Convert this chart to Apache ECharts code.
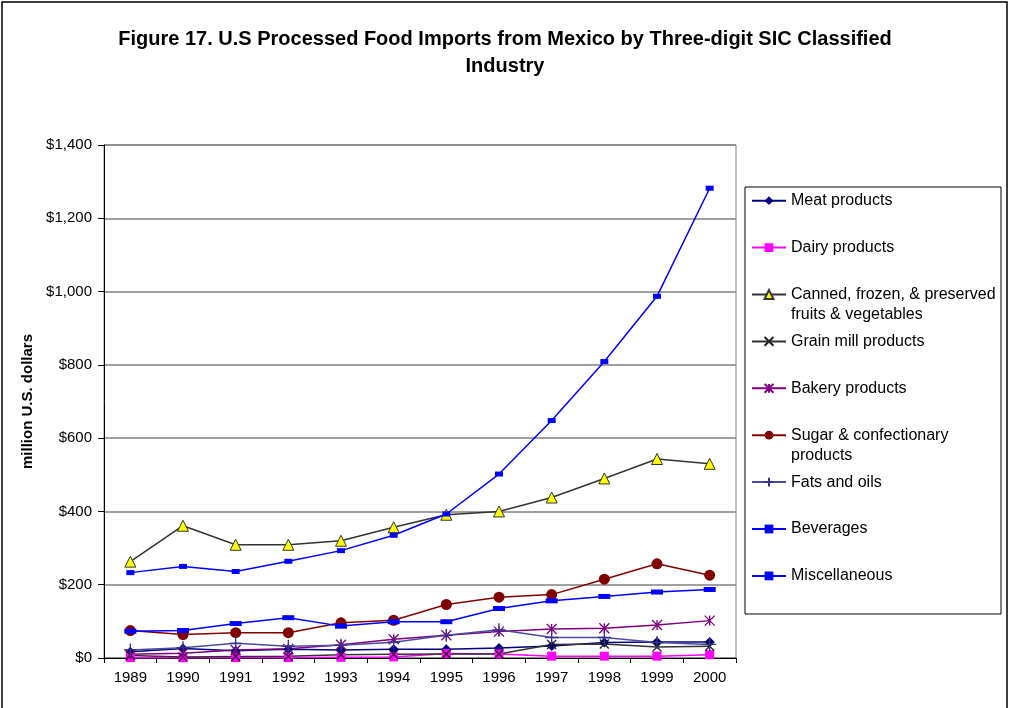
<!DOCTYPE html>
<html>
<head>
<meta charset="utf-8">
<title>Figure 17</title>
<script src="https://cdn.jsdelivr.net/npm/echarts@6/dist/echarts.min.js"></script>
<style>
  html, body { margin: 0; padding: 0; background: #fff; }
  #chart { width: 1010px; height: 708px; }
</style>
</head>
<body>
<div id="chart"></div>
<script>
// years on the x axis
var years = ['1989', '1990', '1991', '1992', '1993', '1994', '1995', '1996', '1997', '1998', '1999', '2000'];
// million U.S. dollars
var meat      = [17, 26, 20, 24, 22, 24, 24, 27, 33, 42, 44, 44];
var dairy     = [1, 1, 1, 1, 2, 3, 12, 11, 5, 5, 5, 9];
var canned    = [263, 361, 309, 309, 320, 357, 391, 400, 438, 490, 543, 530];
var grain     = [7, 3, 4, 5, 9, 10, 11, 11, 37, 38, 30, 32];
var bakery    = [10, 13, 22, 25, 36, 51, 62, 72, 79, 81, 90, 102];
var sugar     = [75, 64, 69, 69, 96, 103, 146, 166, 173, 215, 257, 226];
var fats      = [22, 28, 40, 32, 35, 43, 62, 77, 56, 56, 42, 37];
var beverages = [233, 250, 236, 264, 293, 335, 393, 502, 648, 809, 987, 1282];
var misc      = [73, 75, 94, 110, 87, 99, 99, 135, 156, 168, 180, 187];
// y axis ticks
var yTicks = [0, 200, 400, 600, 800, 1000, 1200, 1400];

var FONT = 'Liberation Sans, Arial, sans-serif';

// marker shapes Excel uses
var xMark    = 'path://M0,0L10,10M0,10L10,0';
var plusMark = 'path://M5,0L5,10M0,5L10,5';
var starMark = 'path://M0,0L10,10M0,10L10,0M5,0L5,10';

var seriesDefs = [
  { name: 'Meat products', data: meat, line: '#000080', symbol: 'diamond', size: 10, fill: '#000080' },
  { name: 'Dairy products', data: dairy, line: '#FF00FF', symbol: 'rect', size: 9, fill: '#FF00FF' },
  { name: 'Canned, frozen, & preserved fruits & vegetables', label: ['Canned, frozen, & preserved', 'fruits & vegetables'],
    data: canned, line: '#333333', symbol: 'triangle', size: 11, fill: '#FFFF00', border: '#333333', bw: 1 },
  { name: 'Grain mill products', data: grain, line: '#333333', symbol: xMark, size: 9, fill: 'none', border: '#222222', bw: 1.3 },
  { name: 'Bakery products', data: bakery, line: '#800080', symbol: starMark, size: 10, fill: 'none', border: '#800080', bw: 1.3 },
  { name: 'Sugar & confectionary products', label: ['Sugar & confectionary', 'products'],
    data: sugar, line: '#800000', symbol: 'circle', size: 11, fill: '#800000' },
  { name: 'Fats and oils', data: fats, line: '#4B4BA0', symbol: plusMark, size: 13, fill: 'none', border: '#33338C', bw: 1.3 },
  { name: 'Beverages', data: beverages, line: '#0000FF', symbol: 'rect', size: [8, 5], fill: '#0000FF' },
  { name: 'Miscellaneous', data: misc, line: '#0000FF', symbol: 'rect', size: [12, 5], fill: '#0000FF' }
];

function dollars(v) {
  var s = String(v);
  if (v >= 1000) s = s.slice(0, s.length - 3) + ',' + s.slice(-3);
  return '$' + s;
}

var series = seriesDefs.map(function (d) {
  return {
    name: d.name,
    type: 'line',
    data: d.data,
    symbol: d.symbol,
    symbolSize: d.size,
    showAllSymbol: true,
    animation: false,
    lineStyle: { color: d.line, width: 1.5 },
    itemStyle: {
      color: d.fill,
      borderColor: d.border || d.fill,
      borderWidth: d.bw || 0
    },
    emphasis: { disabled: true }
  };
});

// one legend per entry so the rows keep Excel's even spacing
var LH = 20;
var legends = seriesDefs.map(function (d, i) {
  var cy = 200.7 + i * 46.9;
  var two = !!d.label;
  return {
    orient: 'vertical',
    left: 751,
    top: cy - (two ? 1.5 : 0.5) * LH,
    padding: 0,
    itemWidth: 34,
    itemHeight: 11,
    itemGap: 0,
    selectedMode: false,
    data: [d.name],
    formatter: function (name) {
      return two ? '\n' + d.label[0] + '\n' + d.label[1] : name;
    },
    textStyle: { fontFamily: FONT, fontSize: 16, color: '#000', lineHeight: LH }
  };
});

var chart = echarts.init(document.getElementById('chart'), null, { renderer: 'canvas' });
chart.setOption({
  backgroundColor: '#fff',
  animation: false,
  title: {
    text: 'Figure 17. U.S Processed Food Imports from Mexico by Three-digit SIC Classified\nIndustry',
    left: 'center',
    top: 21,
    textStyle: { fontFamily: FONT, fontSize: 20, fontWeight: 'bold', color: '#000', lineHeight: 27 }
  },
  legend: legends,
  grid: {
    left: 104, right: 274, top: 145, bottom: 50,
    show: true, borderColor: '#808080', borderWidth: 1
  },
  xAxis: {
    type: 'category',
    data: years,
    boundaryGap: true,
    axisLine: { lineStyle: { color: '#000', width: 1 } },
    axisTick: { show: true, length: 5, lineStyle: { color: '#000' } },
    axisLabel: { color: '#000', fontFamily: FONT, fontSize: 15, margin: 12 }
  },
  yAxis: {
    type: 'value',
    min: yTicks[0],
    max: yTicks[yTicks.length - 1],
    interval: yTicks[1] - yTicks[0],
    name: 'million U.S. dollars',
    nameLocation: 'middle',
    nameRotate: 90,
    nameGap: 67,
    nameTextStyle: { fontFamily: FONT, fontSize: 15, fontWeight: 'bold', color: '#000' },
    axisLine: { show: true, lineStyle: { color: '#000', width: 1 } },
    axisTick: { show: true, length: 6, lineStyle: { color: '#000' } },
    axisLabel: { color: '#000', fontFamily: FONT, fontSize: 15, margin: 12, formatter: dollars },
    splitLine: { show: true, lineStyle: { color: '#808080', width: 1.5 } }
  },
  graphic: [
    { type: 'rect', shape: { x: 2, y: 2, width: 1005, height: 720 },
      style: { fill: 'none', stroke: '#000', lineWidth: 1.5 }, silent: true },
    { type: 'rect', shape: { x: 745, y: 187, width: 256, height: 427 },
      style: { fill: 'none', stroke: '#000', lineWidth: 1 }, silent: true }
  ],
  series: series
});
</script>
</body>
</html>
